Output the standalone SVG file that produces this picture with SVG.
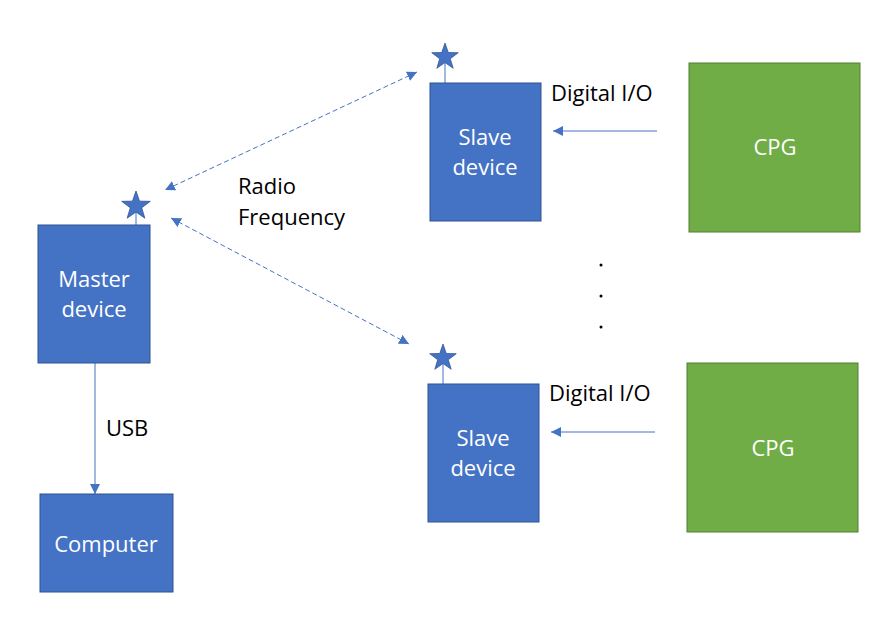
<svg xmlns="http://www.w3.org/2000/svg" width="884" height="625" viewBox="0 0 884 625">
<style>
.blue{fill:#4472C4;stroke:#2F528F;stroke-width:1}
.green{fill:#70AD47;stroke:#507E32;stroke-width:1}
.wt{fill:#fff;font-family:"Open Sans","Liberation Sans",sans-serif;font-size:22px;text-anchor:middle}
.bt{fill:#000;font-family:"Open Sans","Liberation Sans",sans-serif;font-size:22px}
.ln{stroke:#4472C4;stroke-width:1;fill:none}
.dash{stroke-dasharray:5,3}
.star{fill:#4472C4;stroke:#2F528F;stroke-width:0.8}
</style>
<defs>
<marker id="ah" viewBox="0 0 10 10" refX="10" refY="5" markerWidth="10" markerHeight="10" markerUnits="userSpaceOnUse" orient="auto-start-reverse">
<path d="M0,0 L10,5 L0,10 z" fill="#4472C4"/>
</marker>
<path id="st" d="M0,-15 L3.53,-4.85 L14.27,-4.64 L5.71,1.85 L8.82,12.14 L0,6 L-8.82,12.14 L-5.71,1.85 L-14.27,-4.64 L-3.53,-4.85 z"/>
</defs>
<g id="connectors">
<line class="ln" x1="95" y1="363" x2="95" y2="494" marker-end="url(#ah)"/>
<line class="ln" x1="657" y1="131" x2="553" y2="131" marker-end="url(#ah)"/>
<line class="ln" x1="655" y1="432" x2="551" y2="432" marker-end="url(#ah)"/>
<line class="ln dash" x1="417" y1="72" x2="165" y2="190" marker-start="url(#ah)" marker-end="url(#ah)"/>
<line class="ln dash" x1="171" y1="218" x2="409" y2="344" marker-start="url(#ah)" marker-end="url(#ah)"/>
</g>
<g id="master">
<line class="ln" x1="136" y1="212" x2="136" y2="225"/>
<use href="#st" class="star" transform="translate(136,206)"/>
<rect class="blue" x="38" y="225" width="112" height="138"/>
<text class="wt" x="94" y="287">Master</text>
<text class="wt" x="94" y="317">device</text>
</g>
<g id="computer">
<rect class="blue" x="40" y="494" width="133" height="98"/>
<text class="wt" x="106" y="552">Computer</text>
</g>
<g id="slave1">
<line class="ln" x1="445" y1="62" x2="445" y2="83"/>
<use href="#st" class="star" transform="translate(445,57) scale(0.93)"/>
<rect class="blue" x="430" y="83" width="111" height="138"/>
<text class="wt" x="485" y="145">Slave</text>
<text class="wt" x="485" y="175">device</text>
</g>
<g id="slave2">
<line class="ln" x1="443" y1="363" x2="443" y2="384"/>
<use href="#st" class="star" transform="translate(443,358) scale(0.93)"/>
<rect class="blue" x="428" y="384" width="111" height="138"/>
<text class="wt" x="483" y="446">Slave</text>
<text class="wt" x="483" y="476">device</text>
</g>
<g id="cpg1">
<rect class="green" x="689" y="63" width="171" height="169"/>
<text class="wt" x="775" y="155">CPG</text>
</g>
<g id="cpg2">
<rect class="green" x="687" y="363" width="171" height="169"/>
<text class="wt" x="773" y="456">CPG</text>
</g>
<g id="labels">
<text class="bt" x="238" y="194">Radio</text>
<text class="bt" x="238" y="225">Frequency</text>
<text class="bt" x="551" y="101">Digital I/O</text>
<text class="bt" x="549" y="401">Digital I/O</text>
<text class="bt" x="106" y="436">USB</text>
<circle cx="601" cy="265" r="1.5" fill="#000"/>
<circle cx="601" cy="296" r="1.5" fill="#000"/>
<circle cx="601" cy="327" r="1.5" fill="#000"/>
</g>
</svg>
